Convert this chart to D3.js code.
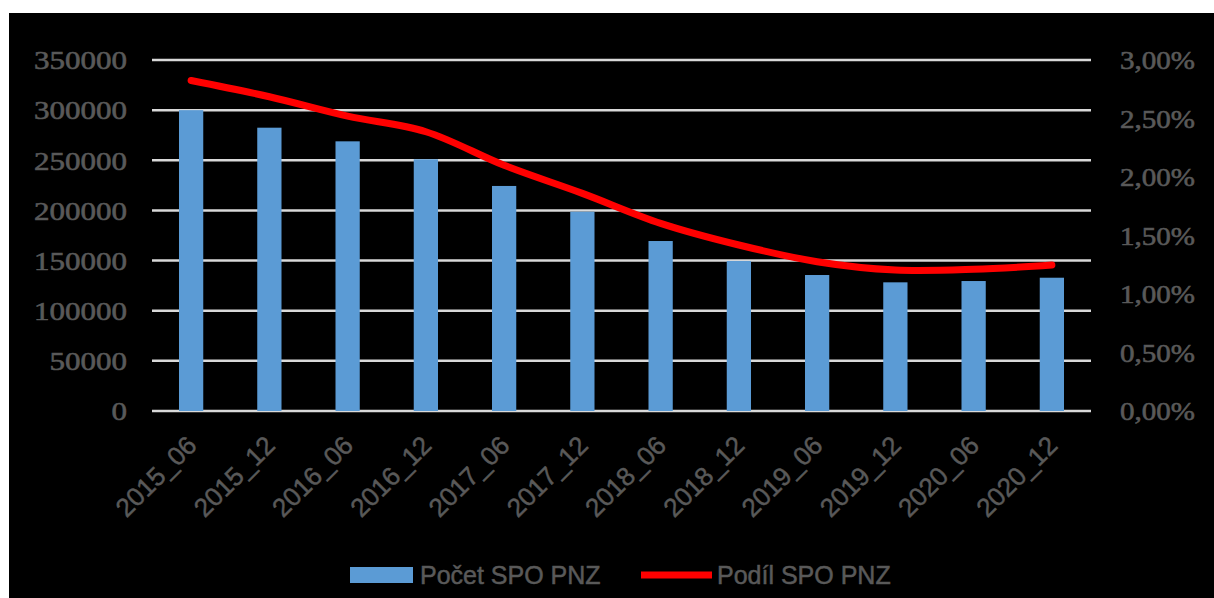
<!DOCTYPE html>
<html><head><meta charset="utf-8">
<script src="https://cdn.jsdelivr.net/npm/d3@7"></script>
<style>html,body{margin:0;padding:0;background:#fff;}svg{display:block;}</style>
</head><body>
<svg id="chart" width="1214" height="598"></svg>
<script>
const categories = ["2015_06","2015_12","2016_06","2016_12","2017_06","2017_12","2018_06","2018_12","2019_06","2019_12","2020_06","2020_12"];
const pocetSPO = [300000,282500,268900,251000,224400,198700,169500,149600,135600,128300,129600,132900];
const podilSPO = [2.825,2.686,2.52,2.387,2.10,1.86,1.604,1.419,1.276,1.205,1.211,1.248];
const leftTicks = [0,50000,100000,150000,200000,250000,300000,350000];
const rightTicks = [0,0.5,1,1.5,2,2.5,3];
const seriesNames = ["Počet SPO PNZ","Podíl SPO PNZ"];

const svg = d3.select("#chart");
svg.append("rect").attr("x",9).attr("y",13).attr("width",1205).attr("height",585).attr("fill","#000");

const L = 152, R = 1091, T = 60, B = 411;
const x = d3.scaleBand().domain(categories).range([L,R]).paddingInner(0.69).paddingOuter(0.345);
const xc = d3.scalePoint().domain(categories).range([L,R]).padding(0.5);
const yL = d3.scaleLinear().domain([0,350000]).range([B,T]);
const yR = d3.scaleLinear().domain([0,3]).range([B,T]);
const gray = "#595959";

// gridlines
svg.append("g").selectAll("line").data(leftTicks).join("line")
  .attr("x1",L).attr("x2",R).attr("y1",d=>yL(d)).attr("y2",d=>yL(d))
  .attr("stroke","#d9d9d9").attr("stroke-width",2.5);

// left axis
const axL = d3.axisLeft(yL).tickValues(leftTicks).tickSize(0).tickPadding(0).tickFormat(d=>String(d));
const gL = svg.append("g").attr("transform",`translate(127,0)`).call(axL);
gL.select(".domain").remove();
gL.selectAll("text").attr("fill",gray).attr("stroke",gray).attr("stroke-width",0.6)
  .attr("font-family","'Liberation Serif',serif").attr("font-size",26)
  .attr("dy","0.34em").attr("x",0)
  .attr("textLength",d=>String(d).length*15.5).attr("lengthAdjust","spacingAndGlyphs");

// right axis
const fmtR = d=>d.toFixed(2).replace(".",",")+"%";
const axR = d3.axisRight(yR).tickValues(rightTicks).tickSize(0).tickPadding(0).tickFormat(fmtR);
const gR = svg.append("g").attr("transform",`translate(1120,0)`).call(axR);
gR.select(".domain").remove();
gR.selectAll("text").attr("fill",gray).attr("stroke",gray).attr("stroke-width",0.6)
  .attr("font-family","'Liberation Serif',serif").attr("font-size",26)
  .attr("dy","0.34em").attr("x",0).attr("textLength",75).attr("lengthAdjust","spacingAndGlyphs");

// bars
svg.append("g").selectAll("rect").data(pocetSPO).join("rect")
  .attr("x",(d,i)=>x(categories[i])).attr("width",x.bandwidth())
  .attr("y",d=>yL(d)).attr("height",d=>yL(0)-yL(d))
  .attr("fill","#5B9BD5");

// line
const line = d3.line().x((d,i)=>xc(categories[i])).y(d=>yR(d)).curve(d3.curveCatmullRom.alpha(0.5));
svg.append("path").datum(podilSPO).attr("d",line).attr("fill","none")
  .attr("stroke","#FF0000").attr("stroke-width",7).attr("stroke-linecap","round").attr("stroke-linejoin","round");

// category labels
svg.append("g").selectAll("text").data(categories).join("text")
  .attr("transform",d=>`translate(${xc(d)+7},447) rotate(-45)`)
  .attr("text-anchor","end").attr("fill",gray).attr("stroke",gray).attr("stroke-width",0.5)
  .attr("font-family","'Liberation Sans',sans-serif").attr("font-size",26)
  .text(d=>d);

// legend
const lg = svg.append("g");
lg.append("rect").attr("x",350).attr("y",567).attr("width",63).attr("height",16).attr("fill","#5B9BD5");
lg.append("text").attr("x",420).attr("y",584).attr("fill",gray).attr("stroke",gray).attr("stroke-width",0.5)
  .attr("font-family","'Liberation Sans',sans-serif").attr("font-size",25).text(seriesNames[0]);
lg.append("line").attr("x1",641).attr("x2",712).attr("y1",575).attr("y2",575).attr("stroke","#FF0000").attr("stroke-width",7);
lg.append("text").attr("x",717).attr("y",584).attr("fill",gray).attr("stroke",gray).attr("stroke-width",0.5)
  .attr("font-family","'Liberation Sans',sans-serif").attr("font-size",25).text(seriesNames[1]);
</script>
</body></html>
